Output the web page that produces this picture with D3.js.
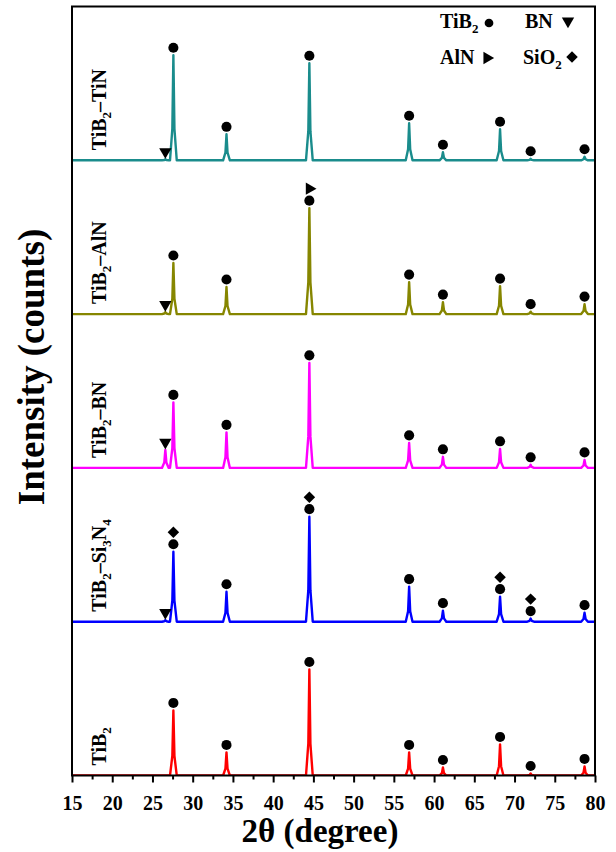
<!DOCTYPE html>
<html>
<head>
<meta charset="utf-8">
<script src="https://cdn.jsdelivr.net/npm/d3@7"></script>
<style>
  html, body { margin: 0; padding: 0; background: #fff; }
  svg { display: block; }
  text { font-family: "Liberation Serif", "Times New Roman", serif; font-weight: bold; fill: #000; }
</style>
</head>
<body>
<svg id="chart" width="616" height="852"></svg>
<script>
// ---------------- data ----------------
const peakTheta = [26.6, 27.6, 34.2, 44.5, 56.9, 61.1, 68.2, 72.0, 78.7];
const seriesNames = ["TiB2", "TiB2–Si3N4", "TiB2–BN", "TiB2–AlN", "TiB2–TiN"];
const seriesColors = ["#ff0000", "#0000ff", "#ff00ff", "#868600", "#1a8c8c"];
const intensityTiB2 = [0, 423, 150, 689, 150, 52, 202, 13, 59];
const intensitySi3N4 = [10, 455, 195, 683, 228, 72, 163, 20, 59];
const intensityBN = [117, 426, 231, 683, 163, 72, 124, 20, 52];
const intensityAlN = [13, 332, 176, 689, 208, 78, 182, 16, 65];
const intensityTiN = [7, 683, 169, 631, 241, 52, 202, 10, 23];
const seriesOffsets = [0, 1000, 2000, 3000, 4000];
// phase markers: [theta, phase, stack level]
const markersTiB2 = [[27.6,"TiB2",0],[34.2,"TiB2",0],[44.5,"TiB2",0],[56.9,"TiB2",0],[61.1,"TiB2",0],[68.2,"TiB2",0],[72.0,"TiB2",0],[78.7,"TiB2",0]];
const markersSi3N4 = [[26.6,"BN",0],[27.6,"TiB2",0],[27.6,"SiO2",1],[34.2,"TiB2",0],[44.5,"TiB2",0],[44.5,"SiO2",1],[56.9,"TiB2",0],[61.1,"TiB2",0],[68.2,"TiB2",0],[68.2,"SiO2",1],[72.0,"TiB2",0],[72.0,"SiO2",1],[78.7,"TiB2",0]];
const markersBN = [[26.6,"BN",0],[27.6,"TiB2",0],[34.2,"TiB2",0],[44.5,"TiB2",0],[56.9,"TiB2",0],[61.1,"TiB2",0],[68.2,"TiB2",0],[72.0,"TiB2",0],[78.7,"TiB2",0]];
const markersAlN = [[26.6,"BN",0],[27.6,"TiB2",0],[34.2,"TiB2",0],[44.5,"TiB2",0],[44.5,"AlN",1],[56.9,"TiB2",0],[61.1,"TiB2",0],[68.2,"TiB2",0],[72.0,"TiB2",0],[78.7,"TiB2",0]];
const markersTiN = [[26.6,"BN",0],[27.6,"TiB2",0],[34.2,"TiB2",0],[44.5,"TiB2",0],[56.9,"TiB2",0],[61.1,"TiB2",0],[68.2,"TiB2",0],[72.0,"TiB2",0],[78.7,"TiB2",0]];
const xTicks = [15, 20, 25, 30, 35, 40, 45, 50, 55, 60, 65, 70, 75, 80];
const xMinorTicks = [17.5, 22.5, 27.5, 32.5, 37.5, 42.5, 47.5, 52.5, 57.5, 62.5, 67.5, 72.5, 77.5];
const legendItems = [["TiB", "2", "TiB2"], ["BN", "", "BN"], ["AlN", "", "AlN"], ["SiO", "2", "SiO2"]];

const intensities = [intensityTiB2, intensitySi3N4, intensityBN, intensityAlN, intensityTiN];
const markerSets = [markersTiB2, markersSi3N4, markersBN, markersAlN, markersTiN];

// ---------------- layout ----------------
const svg = d3.select("#chart");
const pLeft = 72, pRight = 595, pTop = 6.5, pBottom = 775.5;
const x = d3.scaleLinear().domain([15, 80]).range([pLeft, pRight]);
const y = d3.scaleLinear().domain([0, 5000]).range([pBottom, pTop]);
const serif = '"Liberation Serif", "Times New Roman", serif';

svg.append("defs").append("clipPath").attr("id", "clip")
  .append("rect").attr("x", pLeft).attr("y", pTop).attr("width", pRight - pLeft).attr("height", pBottom - pTop);

const halfW = 0.42;
const line = d3.line().x(d => x(d[0])).y(d => y(d[1]));

function peakPoints(vals, off) {
  const pts = [[15, off]];
  peakTheta.forEach((t, i) => {
    if (vals[i] > 0) {
      pts.push([t - halfW, off], [t - 0.13, off + vals[i] * 0.3], [t, off + vals[i]], [t + 0.13, off + vals[i] * 0.3], [t + halfW, off]);
    }
  });
  pts.push([80, off]);
  return pts;
}

const plot = svg.append("g").attr("clip-path", "url(#clip)");
intensities.forEach((vals, s) => {
  plot.append("path")
    .attr("d", line(peakPoints(vals, seriesOffsets[s])))
    .attr("fill", "none")
    .attr("stroke", seriesColors[s])
    .attr("stroke-width", 2.4)
    .attr("stroke-linejoin", "round");
});

// markers
const symbolFor = {
  TiB2: d3.symbol().type(d3.symbolCircle).size(80),
  BN: d3.symbol().type(d3.symbolTriangle).size(66),
  AlN: d3.symbol().type(d3.symbolTriangle).size(66),
  SiO2: d3.symbol().type(d3.symbolSquare).size(66)
};
const rotFor = { TiB2: 0, BN: 180, AlN: 90, SiO2: 45 };
const mk = svg.append("g");
markerSets.forEach((set, s) => {
  set.forEach(m => {
    const i = peakTheta.indexOf(m[0]);
    const h = intensities[s][i];
    const py = y(seriesOffsets[s] + h) - 7.5 - m[2] * 12;
    mk.append("path")
      .attr("d", symbolFor[m[1]]())
      .attr("transform", `translate(${x(m[0])},${py}) rotate(${rotFor[m[1]]})`)
      .attr("fill", "#000");
  });
});

// series labels (rotated)
seriesNames.forEach((name, s) => {
  const base = y(seriesOffsets[s]) - 10;
  const t = svg.append("text")
    .attr("transform", `translate(106,${base}) rotate(-90)`)
    .attr("font-size", 20)
    .attr("text-anchor", "start");
  const parts = name.match(/[A-Za-z–]+|\d+/g);
  parts.forEach((p, k) => {
    if (/^\d+$/.test(p)) {
      t.append("tspan").text(p).attr("font-size", 13).attr("dy", 5);
    } else {
      t.append("tspan").text(p).attr("dy", k > 0 ? -5 : 0);
    }
  });
});

// x axis
const ax = svg.append("g").attr("transform", `translate(0,${pBottom})`)
  .call(d3.axisBottom(x).tickValues(xTicks).tickSize(7).tickPadding(13).tickFormat(d3.format("d")));
ax.select(".domain").remove();
ax.selectAll("line").attr("stroke", "#000").attr("stroke-width", 2);
ax.selectAll("text").style("font-size", "20px").style("font-family", serif).style("font-weight", "bold");
svg.append("g").attr("transform", `translate(0,${pBottom})`)
  .call(d3.axisBottom(x).tickValues(xMinorTicks).tickSize(4).tickFormat(""))
  .call(g => g.select(".domain").remove())
  .selectAll("line").attr("stroke", "#000").attr("stroke-width", 2);

// frame
svg.append("rect").attr("x", pLeft).attr("y", pTop).attr("width", pRight - pLeft).attr("height", pBottom - pTop)
  .attr("fill", "none").attr("stroke", "#000").attr("stroke-width", 2);

// axis titles
svg.append("text").attr("x", 320).attr("y", 842).attr("text-anchor", "middle").attr("font-size", 33).text("2θ (degree)");
svg.append("text").attr("transform", "translate(44,367) rotate(-90)").attr("text-anchor", "middle").attr("font-size", 37).text("Intensity (counts)");

// legend
const legendPos = [[440, 28, 489, 23], [525, 28, 568, 21], [440, 64, 487, 58], [523, 64, 572, 57]];
legendItems.forEach((it, k) => {
  const p = legendPos[k];
  const t = svg.append("text").attr("x", p[0]).attr("y", p[1]).attr("font-size", 20);
  t.append("tspan").text(it[0]);
  if (it[1]) t.append("tspan").text(it[1]).attr("font-size", 13).attr("dy", 5);
  const sym = it[2] === "TiB2" ? d3.symbol().type(d3.symbolCircle).size(60) : symbolFor[it[2]];
  svg.append("path").attr("d", sym()).attr("transform", `translate(${p[2]},${p[3]}) rotate(${rotFor[it[2]]})`).attr("fill", "#000");
});
</script>
</body>
</html>
